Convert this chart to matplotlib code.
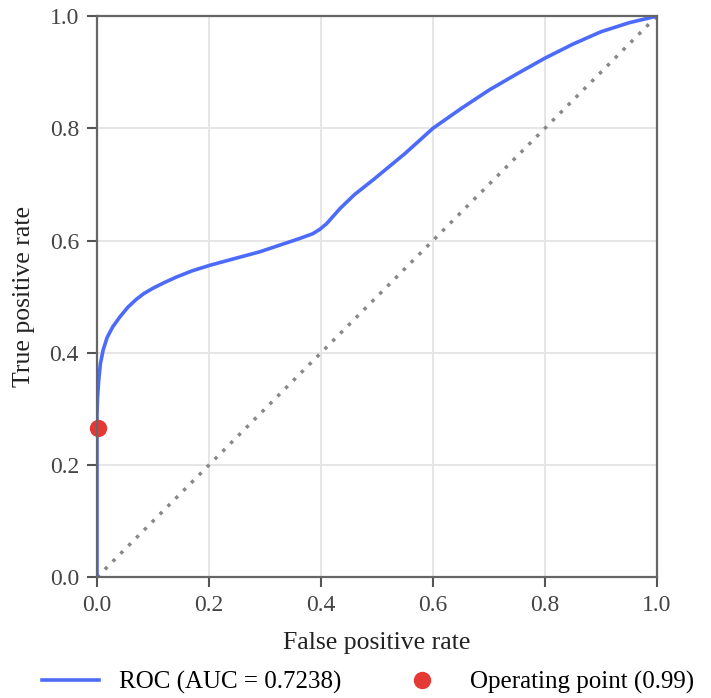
import matplotlib
matplotlib.use("Agg")
import matplotlib.pyplot as plt

# ROC curve
fpr = [0.0, 0.0, 0.0, 0.001, 0.003, 0.006, 0.011, 0.018, 0.028, 0.041, 0.055, 0.07,
       0.083, 0.1, 0.12, 0.142, 0.17, 0.202, 0.25, 0.291, 0.327, 0.36, 0.385,
       0.398, 0.41, 0.434, 0.46, 0.493, 0.55, 0.6, 0.65, 0.7, 0.75, 0.8, 0.85,
       0.9, 0.95, 1.0]
tpr = [0.0, 0.20, 0.29, 0.32, 0.35, 0.38, 0.405, 0.427, 0.446, 0.464, 0.481, 0.495,
       0.505, 0.515, 0.525, 0.535, 0.546, 0.556, 0.569, 0.580, 0.592, 0.603, 0.612,
       0.620, 0.630, 0.657, 0.682, 0.708, 0.755, 0.800, 0.835, 0.868, 0.897, 0.925,
       0.950, 0.972, 0.988, 1.0]
auc = 0.7238
op_fpr = [0.002]
op_tpr = [0.266]
op_threshold = 0.99
ticks = [0.0, 0.2, 0.4, 0.6, 0.8, 1.0]

plt.rcParams['font.family'] = ['Liberation Serif', 'DejaVu Serif']

fig = plt.figure(figsize=(7.11, 6.98), dpi=100)
ax = fig.add_axes([0.1364, 0.173, 0.7876, 0.804])

ax.plot([0, 1], [0, 1], linestyle=(0, (1, 2.2)), color='#888888', lw=2.5, zorder=2)
ax.plot(fpr, tpr, color='#4d6bfa', lw=2.6, zorder=3, label=f'ROC (AUC = {auc:.4f})')
ax.plot(op_fpr, op_tpr, 'o', color='#e53935', ms=11.5, zorder=4, clip_on=False,
        label=f'Operating point ({op_threshold:.2f})')

ax.set_xlim(0, 1)
ax.set_ylim(0, 1)
ax.set_xticks(ticks)
ax.set_yticks(ticks)
ax.set_xticklabels([f'{t:.1f}' for t in ticks])
ax.set_yticklabels([f'{t:.1f}' for t in ticks])
ax.grid(True, color='#e6e6e6', lw=1.4, zorder=0)
ax.set_axisbelow(True)
for s in ax.spines.values():
    s.set_color('#666666')
    s.set_linewidth(1.6)
    s.set_zorder(5)
ax.tick_params(direction='out', length=7, width=1.5, color='#555555',
               labelcolor='#444444', labelsize=17, pad=6)
ax.set_xlabel('False positive rate', color='#222222', fontsize=18.5, va='center')
ax.set_ylabel('True positive rate', color='#222222', fontsize=18.5, va='center')
ax.xaxis.set_label_coords(0.5, -0.1176)
ax.yaxis.set_label_coords(-0.131, 0.5)

fig.legend(loc='center left', bbox_to_anchor=(0.059, 0.022), ncol=2,
           frameon=False, fontsize=18, handlelength=2.28, handletextpad=0.8,
           columnspacing=2.08, borderpad=0, borderaxespad=0, numpoints=1)

fig.savefig('out.png', dpi=100)
